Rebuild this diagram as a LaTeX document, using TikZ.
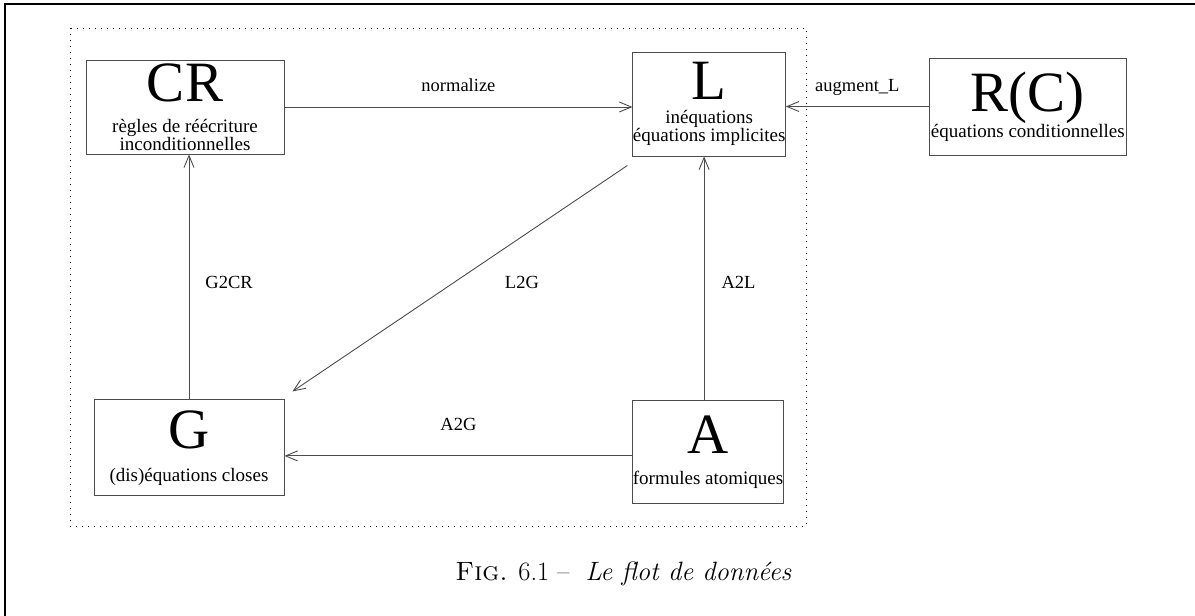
\documentclass[tikz,border=0pt]{standalone}
\usepackage{fontspec}
\newfontfamily\timesfont{Liberation Serif}
\usetikzlibrary{arrows.meta, positioning}

\newcommand{\boxtitle}[1]{{\fontsize{57}{57}\selectfont #1}}

\begin{document}
\begin{tikzpicture}[
    x=1pt, y=-1pt,
    box/.style={rectangle, draw=black!70, line width=0.9pt, align=center, inner sep=0pt, font=\timesfont\fontsize{19}{15.5}\selectfont},
    lbl/.style={font=\timesfont\fontsize{18.5}{20}\selectfont, inner sep=0pt},
    arr/.style={-{Straight Barb[length=12pt,width=10pt]}, draw=black!70, line width=0.9pt}
]
    \useasboundingbox (0,0) rectangle (1195,616);
    \draw[line width=1.7pt] (5,616) -- (5,4) -- (1195,4);

    \node[box, minimum width=198pt, minimum height=94pt] (cr) at (185,107) {\boxtitle{CR}\\[15.5pt] règles de réécriture\\ inconditionnelles};
    \node[box, minimum width=150pt, minimum height=104pt, right=348pt of cr, yshift=3pt] (l) {\boxtitle{L}\\[8.5pt] inéquations\\ équations implicites};
    \node[box, minimum width=197pt, minimum height=97pt, right=143pt of l, yshift=-2.5pt] (rc) {\boxtitle{R(C)}\\ équations conditionnelles};
    \node[box, minimum width=190pt, minimum height=96pt, below=245pt of cr, xshift=4pt] (g) {\boxtitle{G}\\[17.5pt] (dis)équations closes};
    \node[box, minimum width=150pt, minimum height=103pt, right=348pt of g, yshift=-4.5pt] (a) {\boxtitle{A}\\[15.5pt] formules atomiques};

    % le cadre en pointilles
    \draw[line width=0.9pt, dash pattern=on 1pt off 5pt] (70,28) rectangle (806,526);

    \draw[arr] (cr.east) -- node[lbl, anchor=base, yshift=16pt] {normalize} (cr.east -| l.west);
    \draw[arr] (rc.west) -- node[lbl, anchor=base, yshift=15pt] {augment\_L} (rc.west -| l.east);
    \draw[arr] (g.north) -- node[lbl, pos=.453, anchor=base west, xshift=16pt] {G2CR} (g.north |- cr.south);
    \draw[arr] ([xshift=-4pt]a.north) -- node[lbl, pos=.459, anchor=base west, xshift=17pt] {A2L} ([xshift=-4pt]a.north |- l.south);
    \draw[arr] ([yshift=-3.5pt]a.west) -- node[lbl, anchor=base, yshift=25pt] {A2G} ([yshift=-3.5pt]a.west -| g.east);
    \draw[arr] ([xshift=-5pt,yshift=-9pt]l.south west) -- node[lbl, anchor=base, xshift=62pt, yshift=-10pt] {L2G} ([xshift=8pt,yshift=8pt]g.north east);

    \node[font=\fontsize{26.5}{30}\selectfont, anchor=base] (caption) at (623.5,580) {\textsc{Fig.} 6.1 --\ \ \textit{Le flot de données}};
\end{tikzpicture}
\end{document}
